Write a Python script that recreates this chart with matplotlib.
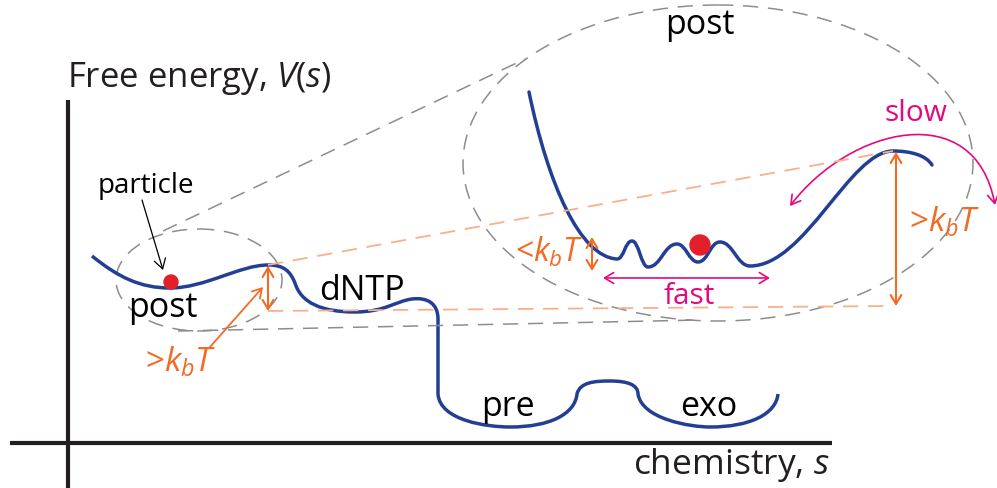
import matplotlib
matplotlib.use("Agg")
import matplotlib.pyplot as plt
from matplotlib.path import Path
from matplotlib.patches import PathPatch, Ellipse, Circle, FancyArrowPatch

plt.rcParams['font.family'] = ['Open Sans', 'DejaVu Sans']
plt.rcParams['mathtext.fontset'] = 'custom'
plt.rcParams['mathtext.rm'] = 'Open Sans'
plt.rcParams['mathtext.it'] = 'Open Sans:italic'
plt.rcParams['mathtext.bf'] = 'Open Sans:bold'
plt.rcParams['lines.scale_dashes'] = False

# ---------------- data (schematic, pixel coordinates) ----------------
# Main free-energy landscape: cubic Bezier segments (start, then ctrl1, ctrl2, end ...)
main_start = (92, 257)
main_part1 = [(118, 278), (140, 289), (170, 289),
              (205, 289), (240, 266), (268, 266),
              (284, 266), (290, 272), (295, 284),
              (301, 304), (322, 313), (355, 313),
              (385, 313), (396, 302), (412, 300),
              (428, 298), (438, 305), (438, 320)]
main_drop = (438, 395)
main_part2 = [(440, 422), (488, 428), (510, 428),
              (550, 428), (575, 415), (577, 395),
              (580, 383), (595, 382), (610, 382),
              (628, 382), (638, 386), (638, 395),
              (642, 420), (690, 428), (710, 428),
              (750, 428), (776, 415), (778, 395)]

# Zoomed inset landscape
inset_start = (529, 93)
inset_curve = [(548, 185), (580, 258), (617, 260),
               (624, 260), (625, 242), (632, 242),
               (639, 242), (641, 268), (648, 268),
               (661, 268), (664, 245), (677, 245),
               (686, 245), (689, 263), (698, 263),
               (708, 263), (710, 243), (720, 243),
               (733, 243), (737, 267), (750, 267),
               (805, 267), (850, 152), (893, 152),
               (910, 152), (926, 156), (932, 166)]

# Labels
state_labels = ['post', 'dNTP', 'pre', 'exo', 'post']
state_pos = [(163, 317), (362, 300), (508, 416), (709, 416), (700, 34)]

BLUE = '#233f94'
ORANGE = '#f26b25'
LORANGE = '#f9b08a'
PINK = '#e4097f'
RED = '#e3202a'
GREY = '#8d8d8d'

fig = plt.figure(figsize=(9.97, 4.89), dpi=100)
ax = fig.add_axes([0, 0, 1, 1])
ax.set_xlim(0, 997)
ax.set_ylim(489, 0)
ax.axis('off')

# Axes lines
ax.plot([68, 68], [101, 489], color='#231f20', lw=3.0, solid_capstyle='butt')
ax.plot([10, 832], [444, 444], color='#231f20', lw=3.0, solid_capstyle='butt')
ax.text(67, 87, r'Free energy, $\mathit{V(s)}$', fontsize=25, ha='left', va='baseline', color='#231f20')
ax.text(633, 474, r'chemistry, $\mathit{s}$', fontsize=25.5, ha='left', va='baseline', color='#231f20')

# Dashed ellipses & connector lines
dash = (0, (11, 7))
ax.add_patch(Ellipse((199, 281), 166, 102, fill=False, ec=GREY, lw=1.1, ls=dash))
ax.add_patch(Ellipse((718, 164), 510, 316, fill=False, ec=GREY, lw=1.1, ls=dash))
ax.plot([163, 525], [232, 60], color=GREY, lw=1.1, ls=dash)
ax.plot([178, 700], [332, 321], color=GREY, lw=1.1, ls=dash)
ax.plot([268, 893], [266, 152], color=LORANGE, lw=1.3, ls=dash)
ax.plot([268, 893], [312, 307], color=LORANGE, lw=1.3, ls=dash)

# Main curve
verts = [main_start] + main_part1 + [main_drop] + main_part2
codes = [Path.MOVETO] + [Path.CURVE4] * len(main_part1) + [Path.LINETO] + [Path.CURVE4] * len(main_part2)
ax.add_patch(PathPatch(Path(verts, codes), fill=False, ec=BLUE, lw=2.5, capstyle='butt'))

# Inset curve
verts2 = [inset_start] + inset_curve
codes2 = [Path.MOVETO] + [Path.CURVE4] * len(inset_curve)
ax.add_patch(PathPatch(Path(verts2, codes2), fill=False, ec=BLUE, lw=2.5, capstyle='round'))

# Particles
ax.add_patch(Circle((171, 283), 7, color=RED, zorder=5))
ax.add_patch(Circle((700, 246), 10, color=RED, zorder=5))

# Text labels
for lab, (x, y) in zip(state_labels, state_pos):
    ax.text(x, y, lab, fontsize=24.5, ha='center', va='baseline', color='black')
ax.text(146, 193, 'particle', fontsize=20, ha='center', va='baseline', color='black')

# particle arrow
ax.add_patch(FancyArrowPatch((142, 201), (163, 271), arrowstyle='->,head_length=0.5,head_width=0.3',
                             mutation_scale=14, color='black', lw=0.9, shrinkA=0, shrinkB=0))

# orange arrows
def darrow(p0, p1, color, lw, ms=13):
    ax.add_patch(FancyArrowPatch(p0, p1, arrowstyle='<->,head_length=0.5,head_width=0.3',
                                 mutation_scale=ms, color=color, lw=lw, shrinkA=0, shrinkB=0))

darrow((268, 267), (268, 312), ORANGE, 1.5)
darrow((896, 153), (896, 307), ORANGE, 1.5)
darrow((592, 238), (592, 272), ORANGE, 1.5)
ax.add_patch(FancyArrowPatch((210, 348), (263, 288), arrowstyle='->,head_length=0.5,head_width=0.3',
                             mutation_scale=13, color=ORANGE, lw=1.3, shrinkA=0, shrinkB=0))

ax.text(145, 372, r'>$k_{b}T$', fontsize=24, color=ORANGE, ha='left', va='baseline')
ax.text(909, 232, r'>$k_{b}T$', fontsize=24, color=ORANGE, ha='left', va='baseline')
ax.text(584, 262, r'<$k_{b}T$', fontsize=23, color=ORANGE, ha='right', va='baseline')

# pink: fast / slow
darrow((603, 279), (770, 279), PINK, 1.2)
ax.text(689, 304, 'fast', fontsize=21.5, color=PINK, ha='center', va='baseline')
ax.text(916, 121, 'slow', fontsize=21.5, color=PINK, ha='center', va='baseline')
slow_path = Path([(790, 207), (850, 128), (975, 98), (995, 206)],
                 [Path.MOVETO, Path.CURVE4, Path.CURVE4, Path.CURVE4])
ax.add_patch(FancyArrowPatch(path=slow_path, arrowstyle='<->,head_length=0.5,head_width=0.3',
                             mutation_scale=13, color=PINK, lw=1.2))

fig.savefig('out.png', dpi=100)
